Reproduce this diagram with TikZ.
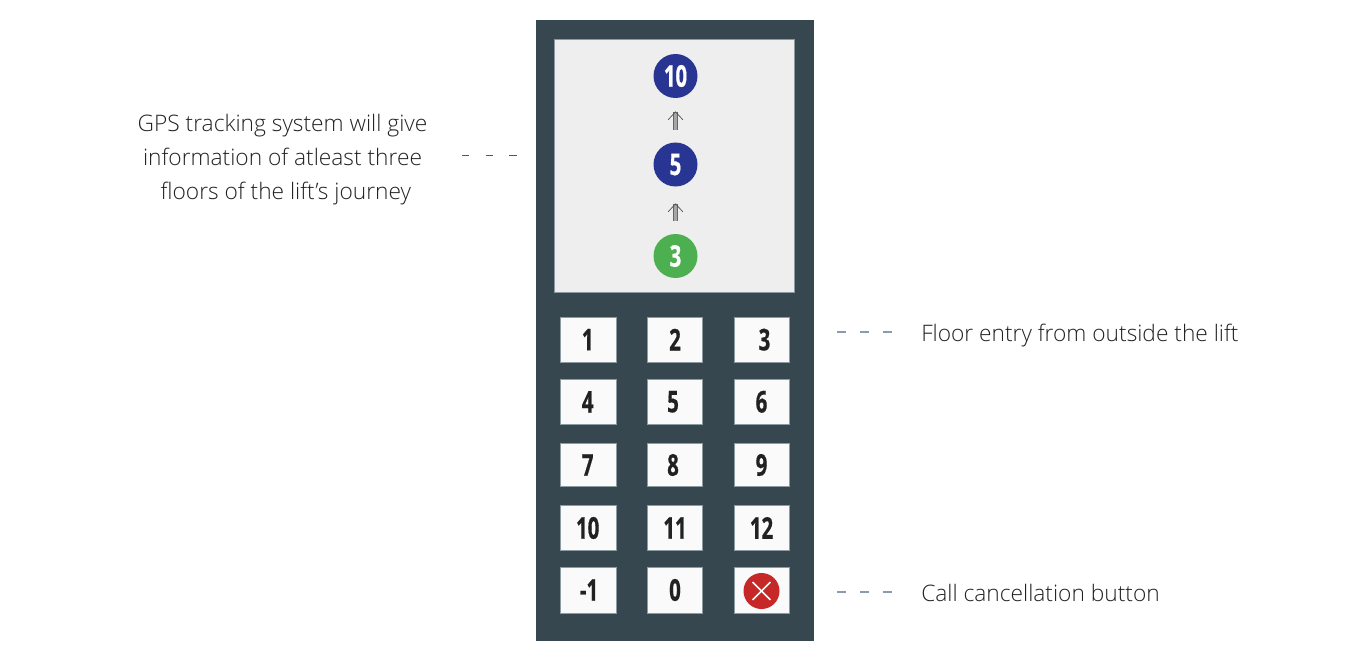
\documentclass[tikz,border=0pt]{standalone}
\usepackage{fontspec}
\setmainfont{Open Sans Light}
\newfontfamily\digitfont[FakeStretch=0.68,FakeBold=0.5]{Open Sans Bold}
\usetikzlibrary{arrows.meta}
\definecolor{panelcol}{HTML}{37474F}
\definecolor{screencol}{HTML}{EEEEEE}
\definecolor{edgecol}{HTML}{8C9AA2}
\definecolor{keycol}{HTML}{FAFAFA}
\definecolor{floorcol}{HTML}{283593}
\definecolor{herecol}{HTML}{4CAF50}
\definecolor{cancelcol}{HTML}{C62828}
\definecolor{inkcol}{HTML}{212121}
\definecolor{dashcol}{HTML}{8A9BB0}
\definecolor{darkdash}{HTML}{3F5A80}
\tikzset{
  floor/.style={circle,minimum size=33pt,inner sep=0pt,text=white,font=\digitfont\fontsize{22.5}{22.5}\selectfont},
  key/.style={fill=keycol,draw=edgecol,line width=0.3pt,text=inkcol,inner sep=0pt,font=\digitfont\fontsize{22.5}{22.5}\selectfont},
  note/.style={text=inkcol,align=center,inner sep=0pt,font=\fontsize{17.05}{25.5}\selectfont},
  up/.style={draw=black!60,line width=0.5pt,double=gray!70,double distance=2.2pt,-{Straight Barb[line width=0.5pt,length=6pt,width=11pt,color=black!70]}},
  dashline/.style={draw=dashcol,line width=1pt,dash pattern=on 6.75pt off 10.5pt},
}
\begin{document}
\begin{tikzpicture}[x=0.75pt,y=-0.75pt]
\useasboundingbox (0,0) rectangle (1366,663);
\fill[panelcol] (536,20) rectangle (814,641);
\node[fill=screencol,draw=edgecol,line width=0.4pt,minimum width=180pt,minimum height=189.5pt,inner sep=0pt] (screen) at (674.3,165.7) {};
\node[floor,fill=floorcol] (top) at (675.5,76) {10};
\node[floor,fill=floorcol] (mid) at (675.5,164.5) {5};
\node[floor,fill=herecol] (now) at (675.5,256) {3};
\draw[up,shorten <=9.4pt,shorten >=9.75pt] (mid) -- (top);
\draw[up,shorten <=9.75pt,shorten >=12.4pt] (now) -- (mid);
\foreach \name/\cx/\cy/\kw/\kh/\lab in {
  a/587.7/339.7/56/44.2/1, b/675/339.7/55/44.2/2, c/761.5/339.7/54.5/44.2/{\hspace*{4.5pt}3},
  d/587.7/401.8/56/45.2/4, e/675/401.8/55/45.2/{5\hspace*{3pt}}, f/761.5/401.8/54.5/45.2/6,
  g/587.7/465/56/42.9/7, h/675/465/55/42.9/{8\hspace*{3pt}}, i/761.5/465/54.5/42.9/9,
  j/587.7/528/56/45.2/10, k/675/528/55/45.2/11, l/761.5/528/54.5/45.2/12,
  m/587.7/590/56/46.1/{\hspace*{2pt}-1}, n/675/590/55/46.1/0}
  \node[key,minimum width=\kw*0.75pt,minimum height=\kh*0.75pt] (\name) at (\cx,\cy) {\lab};
\node[key,minimum width=40.9pt,minimum height=34.6pt] (cancel) at (761.5,590) {};
\node[circle,fill=cancelcol,minimum size=27pt,inner sep=0pt] (stop) at (761.5,591) {};
\draw[white,line width=1.1pt] ([shift={(-3pt,-3pt)}]stop.45) -- ([shift={(3pt,3pt)}]stop.225);
\draw[white,line width=1.1pt] ([shift={(3pt,-3pt)}]stop.135) -- ([shift={(-3pt,3pt)}]stop.315);
\node[note] (gps) at (282.5,159.5) {GPS tracking system will give\\information of atleast three\\\hspace*{5pt}floors of the lift’s journey};
\node[note,anchor=west] (entry) at (921,335.5) {Floor entry from outside the lift};
\node[note,anchor=west] (call) at (921,593) {Call cancellation button};
\coordinate (gpsa) at (462,156);
\coordinate (gpsb) at (518,156);
\coordinate (entrya) at (837,332);
\coordinate (entryb) at (893,332);
\coordinate (calla) at (837,592);
\coordinate (callb) at (893,592);
\draw[dashline,draw=darkdash,line width=0.75pt,dash pattern=on 5.5pt off 12.25pt] (gpsa) -- (gpsb);
\draw[dashline] (entrya) -- (entryb);
\draw[dashline] (calla) -- (callb);
\end{tikzpicture}
\end{document}
